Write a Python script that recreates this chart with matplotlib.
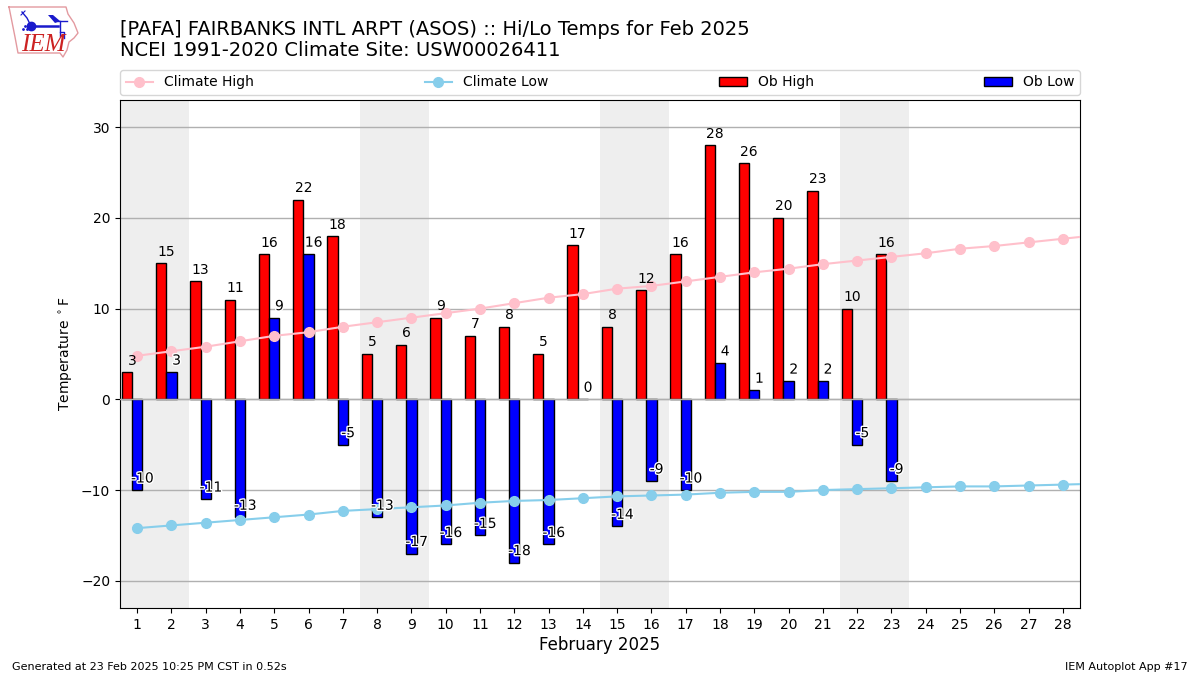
import numpy as np
import matplotlib
matplotlib.use("Agg")
import matplotlib.pyplot as plt
import matplotlib.patheffects as PathEffects

# observed values, Feb 1-23
ob_high = [3, 15, 13, 11, 16, 22, 18, 5, 6, 9, 7, 8, 5, 17, 8, 12, 16, 28, 26, 20, 23, 10, 16]
ob_low = [-10, 3, -11, -13, 9, 16, -5, -13, -17, -16, -15, -18, -16, 0, -14, -9, -10, 4, 1, 2, 2, -5, -9]

# climatology, last value runs past the edge of the axes
clim_high = [4.8, 5.3, 5.8, 6.4, 7.0, 7.4, 8.0, 8.5, 9.0, 9.5, 10.0, 10.6, 11.2, 11.6, 12.2,
             12.5, 13.0, 13.5, 14.0, 14.4, 14.9, 15.3, 15.7, 16.1, 16.6, 16.9, 17.3, 17.7, 18.1]
clim_low = [-14.2, -13.9, -13.6, -13.3, -13.0, -12.7, -12.3, -12.1, -11.9, -11.7, -11.4, -11.2,
            -11.1, -10.9, -10.7, -10.6, -10.5, -10.3, -10.2, -10.2, -10.0, -9.9, -9.8, -9.7,
            -9.6, -9.6, -9.5, -9.4, -9.3]
weekends = [1, 8, 15, 22]

title = "[PAFA] FAIRBANKS INTL ARPT (ASOS) :: Hi/Lo Temps for Feb 2025\nNCEI 1991-2020 Climate Site: USW00026411"

fig = plt.figure(figsize=(12, 6.75), dpi=100)
ax = fig.add_axes([0.1, 0.0993, 0.8, 0.7526])

days = np.arange(1, 24)
clim_days = np.arange(1, 30)

for start in weekends:
    ax.axvspan(start - 0.5, start + 1.5, color="#eeeeee", lw=0, zorder=1)

ax.grid(axis="y", color="#b0b0b0", lw=1)
ax.set_axisbelow("line")

ax.plot(clim_days, clim_high, color="pink", marker="o", lw=1.5, ms=7, label="Climate High", zorder=4)
ax.plot(clim_days, clim_low, color="skyblue", marker="o", lw=1.5, ms=7, label="Climate Low", zorder=4)
ax.bar(days - 0.3, ob_high, width=0.3, color="r", edgecolor="k", lw=1, label="Ob High", zorder=3)
ax.bar(days, ob_low, width=0.3, color="b", edgecolor="k", lw=1, label="Ob Low", zorder=3)
# zero line sits on top of the bar edges
ax.axhline(0, color="#b0b0b0", lw=1, zorder=3.5)

for d, hi, lo in zip(days, ob_high, ob_low):
    ax.text(d - 0.15, hi + 0.5, str(hi), ha="center", va="bottom", fontsize=10, zorder=5)
    t = ax.text(d + 0.15, lo + 0.5, str(lo), ha="center", va="bottom", fontsize=10, zorder=5)
    t.set_path_effects([PathEffects.withStroke(linewidth=2, foreground="white")])

ax.set_xlim(0.5, 28.5)
ax.set_ylim(-23, 33)
ax.set_xticks(np.arange(1, 29))
ax.set_yticks([-20, -10, 0, 10, 20, 30])
ax.tick_params(labelsize=10)
ax.set_xlabel("February 2025", fontsize=12, labelpad=3)
ax.set_ylabel(r"Temperature $^\circ$F", fontsize=10)

ax.legend(loc="lower left", bbox_to_anchor=(0, 1.0098, 1, 0.05), mode="expand", ncol=4,
          fontsize=10, borderaxespad=0)

fig.text(0.1, 0.9105, title, fontsize=14, ha="left", va="bottom", linespacing=1.16)
fig.text(0.01, 0.005, "Generated at 23 Feb 2025 10:25 PM CST in 0.52s", fontsize=8, va="bottom")
fig.text(0.99, 0.005, "IEM Autoplot App #17", fontsize=8, ha="right", va="bottom")

# logo, rough redraw in pixel coordinates
logo = fig.add_axes([0, 1 - 65 / 675, 90 / 1200, 65 / 675])
logo.set_xlim(0, 90)
logo.set_ylim(65, 0)
logo.axis("off")
logo.plot([9, 66, 68, 74, 78, 74, 69, 67, 63, 60, 18, 15, 12, 9],
          [7, 7, 14, 23, 33, 38, 42, 50, 57, 53, 53, 37, 22, 7], color="#e39aa0", lw=1)
logo.plot([31, 58], [26, 26], color="#1a1acc", lw=1.8)
logo.plot([31], [26], "o", color="#1a1acc", ms=6)
logo.plot([60, 60], [21, 36], color="#1a1acc", lw=1)
logo.plot([22, 27, 31], [12, 18, 26], color="#1a1acc", lw=1)
logo.plot([21, 25], [15, 11], color="#1a1acc", lw=0.8)
logo.fill([48, 53, 60, 55], [15, 15, 21, 23], color="#1a1acc", lw=0)
logo.plot([55, 67], [21, 21], color="#1a1acc", lw=1)
logo.plot([60, 64, 64], [32, 32, 38], color="#1a1acc", lw=1)
logo.plot([23, 25, 27], [29, 26, 29], ".", color="#1a1acc", ms=2)
logo.text(21, 45, "IEM", color="#cc2222", fontsize=18, family="Liberation Serif", style="italic", va="center")

fig.savefig("out.png", dpi=100)
